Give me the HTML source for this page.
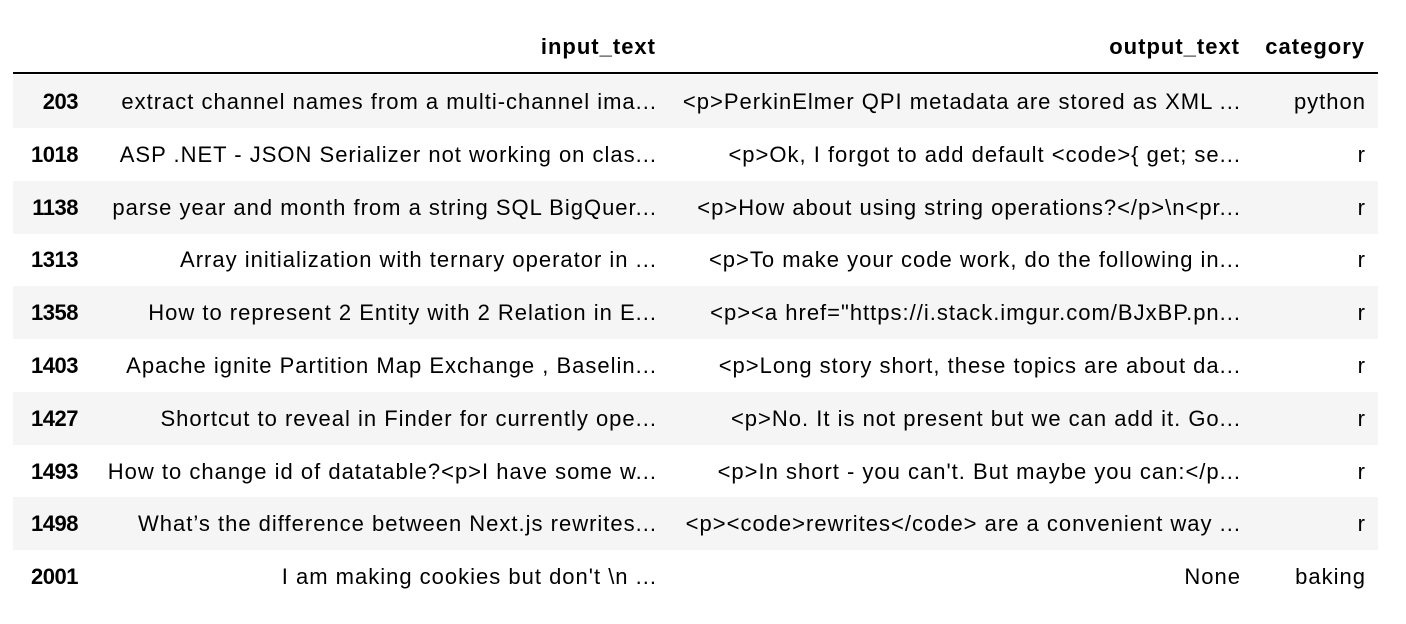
<!DOCTYPE html>
<html><head><meta charset="utf-8"><style>
body{margin:0;width:1406px;height:624px;background:#fff;font-family:"Liberation Sans",Arial,sans-serif;color:#000;overflow:hidden}
.t{position:absolute;left:13px;top:0;width:1365px}
.hdr{position:absolute;left:0;top:30px;width:1365px;height:34px;font-weight:bold;font-size:22px;letter-spacing:0.8px}
.line{position:absolute;left:0;top:72px;width:1365px;height:2px;background:#000}
.row{position:absolute;left:0;width:1365px;height:53px;font-size:22px}
.row.s{background:#f5f5f5}
.c{position:absolute;top:0;height:100%;line-height:53px;text-align:right;white-space:nowrap}
.hdr .c{line-height:34px}
.a,.b,.d{letter-spacing:1px}
.row .a,.row .b,.row .d{margin-right:-1px}
.i{right:1300px;font-weight:bold;letter-spacing:-0.5px}
.a{right:722px}
.b{right:138px}
.d{right:13px}
</style></head><body>
<div class="t">
<div class="hdr">
<span class="c a">input_text</span>
<span class="c b">output_text</span>
<span class="c d">category</span>
</div>
<div class="line"></div>
<div id="rows"></div>
</div>
<script>
const idx=["203","1018","1138","1313","1358","1403","1427","1493","1498","2001"];
const inputs=["extract channel names from a multi-channel ima...","ASP .NET - JSON Serializer not working on clas...","parse year and month from a string SQL BigQuer...","Array initialization with ternary operator in ...","How to represent 2 Entity with 2 Relation in E...","Apache ignite Partition Map Exchange , Baselin...","Shortcut to reveal in Finder for currently ope...","How to change id of datatable?<p>I have some w...","What\u2019s the difference between Next.js rewrites...","I am making cookies but don't \\n ..."];
const outputs=["<p>PerkinElmer QPI metadata are stored as XML ...","<p>Ok, I forgot to add default <code>{ get; se...","<p>How about using string operations?</p>\\n<pr...","<p>To make your code work, do the following in...","<p><a href=\"https://i.stack.imgur.com/BJxBP.pn...","<p>Long story short, these topics are about da...","<p>No. It is not present but we can add it. Go...","<p>In short - you can't. But maybe you can:</p...","<p><code>rewrites</code> are a convenient way ...","None"];
const cats=["python","r","r","r","r","r","r","r","r","baking"];
const host=document.getElementById('rows');
for(let i=0;i<idx.length;i++){
  const r=document.createElement('div');
  r.className='row'+(i%2===0?' s':'');
  r.style.top=(75+i*52.8)+'px';
  
  
  const cells=[['i',idx[i],'row-index'],['a',inputs[i],'input-text-cell'],['b',outputs[i],'output-text-cell'],['d',cats[i],'category-cell']];
  for(const [cl,txt,nm] of cells){
    const s=document.createElement('span');
    s.className='c '+cl;
    s.textContent=txt;
    
    
    r.appendChild(s);
  }
  host.appendChild(r);
}
</script>
</body></html>
